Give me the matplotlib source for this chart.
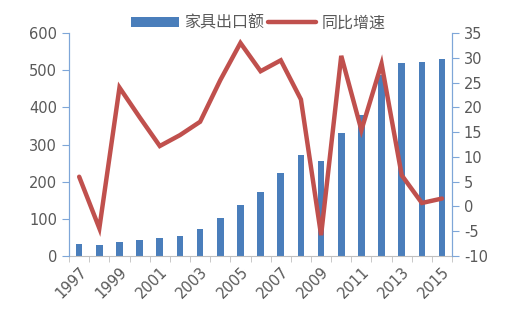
import numpy as np
import matplotlib.pyplot as plt

plt.rcParams['font.family'] = ['DejaVu Sans', 'Noto Sans CJK SC']
plt.rcParams['axes.unicode_minus'] = False

years = list(range(1997, 2016))
export_value = [31, 30, 38, 44, 49, 55, 74, 103, 137, 173, 224, 271, 255, 332, 380, 488, 520, 522, 530]
growth = [6.0, -4.4, 24.0, 18.0, 12.2, 14.4, 17.1, 25.5, 33.0, 27.3, 29.5, 21.6, -5.8, 30.4, 15.4, 28.8, 6.3, 0.7, 1.6]

bar_color = '#4A7EBB'
line_color = '#C0504D'
text_color = '#595959'
spine_color = '#7EA6D8'

fig = plt.figure(figsize=(5.08, 3.21), dpi=100)
ax = fig.add_axes([0.136, 0.2025, 0.754, 0.6945])
ax2 = ax.twinx()

x = np.arange(len(years))
b = ax.bar(x, export_value, width=0.33, color=bar_color, label='家具出口额', zorder=2)
l, = ax2.plot(x, growth, color=line_color, linewidth=3.2, label='同比增速',
              solid_joinstyle='miter', solid_capstyle='round')

ax.set_xlim(-0.5, len(years) - 0.5)
ax.set_ylim(0, 600)
ax.set_yticks(range(0, 601, 100))
ax2.set_ylim(-10, 35)
ax2.set_yticks(range(-10, 36, 5))

ax.set_xticks(x[::2])
ax.set_xticklabels([str(y) for y in years[::2]], rotation=45, ha='right',
                   rotation_mode='anchor', fontsize=10.5, color=text_color)
ax.set_xticks(np.arange(-0.5, len(years), 1), minor=True)
ax.tick_params(axis='x', which='major', length=0, pad=6)
ax.tick_params(axis='x', which='minor', length=4, color='#BFBFBF', direction='out')

ax.tick_params(axis='y', labelsize=10.5, labelcolor=text_color, color=spine_color, length=5)
ax2.tick_params(axis='y', labelsize=10.5, labelcolor=text_color, color=spine_color, length=5)

for a in (ax, ax2):
    a.spines['top'].set_visible(False)
    a.spines['left'].set_color(spine_color)
    a.spines['right'].set_color(spine_color)
    a.spines['bottom'].set_color('#BFBFBF')
ax2.spines['bottom'].set_visible(False)

fig.legend([b, l], ['家具出口额', '同比增速'], loc='center', bbox_to_anchor=(0.508, 0.928),
           ncol=2, frameon=False, prop={'family': 'Noto Sans CJK SC', 'size': 11.5},
           labelcolor=text_color, handlelength=3.0, handletextpad=0.3,
           columnspacing=0.3, handleheight=0.6)

plt.savefig('out.png', dpi=100)
plt.close()
